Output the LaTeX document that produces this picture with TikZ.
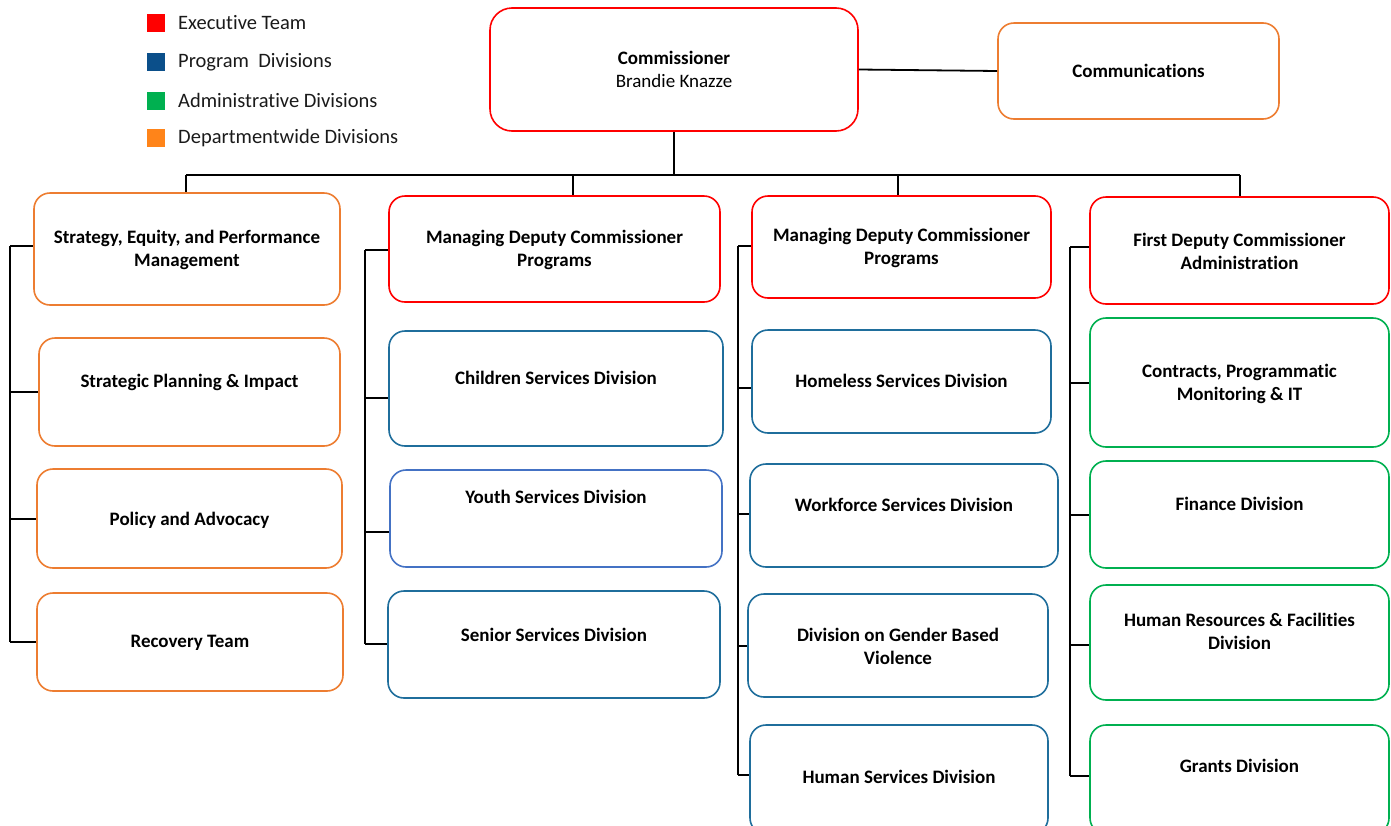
\documentclass[tikz,border=0pt]{standalone}
\usepackage{fontspec}
\setmainfont{Carlito}[Ligatures=NoCommon]
\usetikzlibrary{fit}

\definecolor{exred}{HTML}{FF0000}
\definecolor{progblue}{HTML}{1F6E9C}
\definecolor{legblue}{HTML}{0B4F8A}
\definecolor{youthblue}{HTML}{4472C4}
\definecolor{admgreen}{HTML}{00B050}
\definecolor{deptorange}{HTML}{ED7D31}
\definecolor{legorange}{HTML}{FF8419}
\definecolor{legtext}{HTML}{1A1A1A}

\tikzset{
  orgbox/.style={draw=#1, line width=1.6pt, rounded corners=16pt, inner sep=0pt, fill=white},
  lbl/.style={font=\fontsize{19}{23}\selectfont\bfseries, align=center, inner sep=0pt},
  link/.style={line width=1.8pt, draw=black},
  legsq/.style={minimum size=18pt, inner sep=0pt},
  legtxt/.style={anchor=west, font=\fontsize{20.5}{22}\selectfont, text=legtext, inner sep=0pt},
}

% box: name, colour, x1, y1, x2, y2, text y, text
\newcommand{\orgunit}[8]{%
  \node[orgbox=#2, fit={(#3,#4) (#5,#6)}] (#1) {};
  \coordinate (#1-ty) at (0,#7);
  \node[lbl] (#1-t) at (#1.center |- #1-ty) {#8};
}
% tick from a trunk at x to a box at height y
\newcommand{\tick}[4]{%
  \coordinate (#1) at (#2,#3);
  \draw[link] (#1) -- (#1 -| #4.west);
}

\begin{document}
\begin{tikzpicture}[x=1pt, y=-1pt]
\useasboundingbox (0,0) rectangle (1391,825);
\clip (0,0) rectangle (1391,825);

% legend
\node[legsq, fill=exred] (lg1) at (155.5,23) {};
\node[legsq, fill=legblue] (lg2) at (155.5,62) {};
\node[legsq, fill=admgreen] (lg3) at (155.5,100.5) {};
\node[legsq, fill=legorange] (lg4) at (155.5,138) {};
\node[legtxt] (lt1) at (178,23) {Executive Team};
\node[legtxt] (lt2) at (178,62) {Program\ \ Divisions};
\node[legtxt] (lt3) at (178,100.5) {Administrative Divisions};
\node[legtxt] (lt4) at (178,138) {Departmentwide Divisions};

% top level
\node[orgbox=exred, rounded corners=22pt, fit={(490,8) (858,131)}] (comm) {};
\node[inner sep=0pt, align=center, font=\fontsize{19}{23}\selectfont] (comm-t) at (comm.center)
  {\textbf{Commissioner}\\Brandie Knazze};
\orgunit{cmm}{deptorange}{998}{23}{1279}{119}{71}{Communications}
\draw[link] (comm.east) -- (cmm.west);

% column 1: departmentwide
\orgunit{sepm}{deptorange}{34}{193}{340}{305}{250}{Strategy, Equity, and Performance\\Management}
\orgunit{spi}{deptorange}{39}{338}{340}{446}{382}{Strategic Planning \& Impact}
\orgunit{pa}{deptorange}{37}{469}{342}{568}{520}{Policy and Advocacy}
\orgunit{rt}{deptorange}{37}{593}{343}{691}{643}{Recovery Team}

% column 2: programs
\orgunit{mdca}{exred}{389}{196}{720}{302}{250}{Managing Deputy Commissioner\\Programs}
\orgunit{csd}{progblue}{389}{331}{723}{446}{378}{Children Services Division}
\orgunit{ysd}{youthblue}{390}{470}{722}{567}{497}{Youth Services Division}
\orgunit{ssd}{progblue}{388}{591}{720}{698}{635}{Senior Services Division}

% column 3: programs
\orgunit{mdcb}{exred}{752}{196}{1051}{298}{248}{Managing Deputy Commissioner\\Programs}
\orgunit{hsd}{progblue}{752}{330}{1051}{433}{381}{Homeless Services Division}
\orgunit{wsd}{progblue}{750}{464}{1058}{567}{505}{Workforce Services Division}
\orgunit{dgv}{progblue}{748}{594}{1048}{697}{646}{Division on Gender Based\\Violence}
\orgunit{hum}{progblue}{750}{725}{1048}{834}{777}{Human Services Division}

% column 4: administration
\orgunit{fdc}{exred}{1090}{197}{1389}{304}{251}{First Deputy Commissioner\\Administration}
\orgunit{cpm}{admgreen}{1090}{318}{1389}{447}{384}{Contracts, Programmatic\\Monitoring \& IT}
\orgunit{fin}{admgreen}{1090}{461}{1389}{568}{504}{Finance Division}
\orgunit{hrf}{admgreen}{1090}{585}{1389}{700}{631}{Human Resources \& Facilities\\Division}
\orgunit{gra}{admgreen}{1090}{725}{1389}{834}{766}{Grants Division}

% bus from the commissioner to the four branches
\coordinate (busL) at (186,175);
\coordinate (busR) at (1240,175);
\draw[link] (comm.south) -- (comm.south |- busL);
\draw[link] (busL) -- (busR);
\coordinate (d1) at (186,175);
\coordinate (d2) at (573,175);
\coordinate (d3) at (898,175);
\coordinate (d4) at (1240,175);
\draw[link] (d1) -- (d1 |- sepm.north);
\draw[link] (d2) -- (d2 |- mdca.north);
\draw[link] (d3) -- (d3 |- mdcb.north);
\draw[link] (d4) -- (d4 |- fdc.north);

% column 1 trunk
\tick{a1}{10}{246}{sepm}
\tick{a2}{10}{392}{spi}
\tick{a3}{10}{519}{pa}
\tick{a4}{10}{642}{rt}
\draw[link] (a1) -- (a4);

% column 2 trunk
\tick{b1}{365}{250}{mdca}
\tick{b2}{365}{398}{csd}
\tick{b3}{365}{532}{ysd}
\tick{b4}{365}{644}{ssd}
\draw[link] (b1) -- (b4);

% column 3 trunk
\tick{c1}{738}{246}{mdcb}
\tick{c2}{738}{388}{hsd}
\tick{c3}{738}{514}{wsd}
\tick{c4}{738}{646}{dgv}
\tick{c5}{738}{775}{hum}
\draw[link] (c1) -- (c5);

% column 4 trunk
\tick{e1}{1070}{247}{fdc}
\tick{e2}{1070}{383}{cpm}
\tick{e3}{1070}{515}{fin}
\tick{e4}{1070}{645}{hrf}
\tick{e5}{1070}{776}{gra}
\draw[link] (e1) -- (e5);
\end{tikzpicture}
\end{document}
